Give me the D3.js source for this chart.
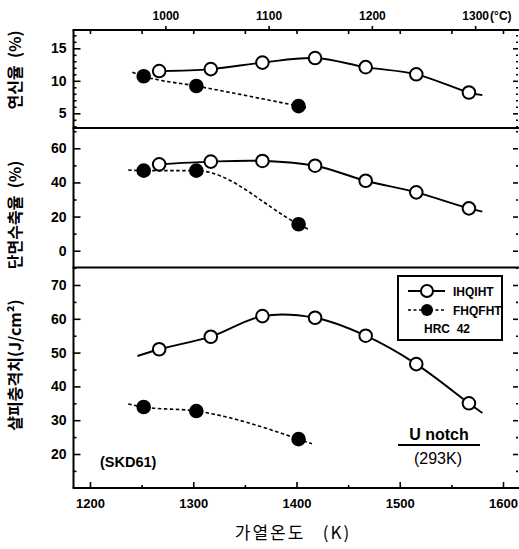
<!DOCTYPE html>
<html><head><meta charset="utf-8">
<script src="https://cdn.jsdelivr.net/npm/d3@7"></script>
<style>body{margin:0;background:#fff}</style>
</head><body>
<svg id="c" width="519" height="549" xmlns="http://www.w3.org/2000/svg"></svg>
<script>
// ---------- data ----------
const ihqTemp = [1267, 1317, 1367, 1418, 1467, 1516, 1567];   // K, IHQIHT
const fhqTemp = [1252, 1303, 1402];                            // K, FHQFHT
const elongIHQ = [11.5, 11.8, 12.8, 13.5, 12.1, 11.0, 8.2];    // %
const elongFHQ = [10.7, 9.2, 6.1];
const raIHQ = [50.6, 52.2, 52.6, 49.8, 41.0, 34.2, 24.8];      // %
const raFHQ = [46.9, 46.9, 15.5];
const impIHQ = [51.0, 54.7, 60.8, 60.3, 55.0, 46.6, 35.0];     // J/cm2
const impFHQ = [33.9, 32.7, 24.4];
// fitted curve extensions beyond the points: [K, value] (null = none)
const elongIHQStart = null,          elongIHQEnd = [1580, 7.8];
const elongFHQStart = [1241, 11.3],  elongFHQEnd = [1411, 5.8];
const raIHQStart = null,             raIHQEnd = [1580, 22.9];
const raFHQStart = [1237, 47.3],     raFHQEnd = [1411, 12.7];
const impIHQStart = [1246, 49.0],    impIHQEnd = [1580, 32.1];
const impFHQStart = [1237, 34.8],    impFHQEnd = [1415, 23.0];
// ticks
const kTicks = [1200, 1300, 1400, 1500, 1600];
const kMinor = [1250, 1350, 1450, 1550];
const cTicks = [1000, 1100, 1200, 1300];
const elongTicks = [5, 10, 15];
const raTicks = [0, 20, 40, 60];
const impTicks = [20, 30, 40, 50, 60, 70];

// ---------- layout ----------
const svg = d3.select("#c");
const L = 73.5, R = 519, RT = 518;
const yTop = 30, yD1 = 128, yD2 = 267.5, yBot = 488;
const x = d3.scaleLinear().domain([1200, 1600]).range([90, 503]);
const xC = d3.scaleLinear().domain([1200 - 273, 1600 - 273]).range([90, 503]);
const y1 = d3.scaleLinear().domain([5, 15]).range([113.3, 48.3]);
const y2 = d3.scaleLinear().domain([0, 60]).range([250.7, 148.3]);
const y3 = d3.scaleLinear().domain([20, 70]).range([454, 285]);

const tickFont = "'Liberation Sans Narrow', 'Liberation Sans', Arial, sans-serif";

function styleAxis(g, size, family, weight) {
  g.select(".domain").remove();
  g.selectAll("line").attr("stroke", "#000").attr("stroke-width", 1.6);
  g.selectAll("text").attr("fill", "#000").attr("font-size", size)
    .attr("font-family", family).attr("font-weight", weight);
}

// bottom axis
svg.append("g").attr("transform", `translate(0,${yBot})`)
  .call(d3.axisBottom(x).tickValues(kTicks).tickSize(-6).tickPadding(11).tickFormat(d3.format("d")))
  .call(g => styleAxis(g, 13, "'Liberation Sans', Arial, sans-serif", "bold"));
svg.append("g").attr("transform", `translate(0,${yBot})`)
  .call(d3.axisBottom(x).tickValues(kMinor).tickSize(-3).tickFormat(""))
  .call(g => styleAxis(g, 10, tickFont, "bold"));
// top axis: K ticks inward, °C ticks outward with labels
svg.append("g").attr("transform", `translate(0,${yTop})`)
  .call(d3.axisTop(x).tickValues(kTicks.concat(kMinor)).tickSize(-4).tickFormat(""))
  .call(g => styleAxis(g, 10, tickFont, "bold"));
svg.append("g").attr("transform", `translate(0,${yTop})`)
  .call(d3.axisTop(xC).tickValues(cTicks).tickSize(4).tickPadding(6).tickFormat(d3.format("d")))
  .call(g => styleAxis(g, 12, tickFont, "bold"));
svg.append("text").attr("x", xC(1300) + 15).attr("y", yTop - 10)
  .attr("font-family", tickFont).attr("font-weight", "bold").attr("font-size", 12)
  .text("(°C)");

// y axes (left with labels, right ticks only)
function yAxes(y, major, minor) {
  svg.append("g").attr("transform", `translate(${L},0)`)
    .call(d3.axisLeft(y).tickValues(major).tickSize(-7).tickPadding(7).tickFormat(d3.format("d")))
    .call(g => styleAxis(g, 14, tickFont, "bold"));
  svg.append("g").attr("transform", `translate(${L},0)`)
    .call(d3.axisLeft(y).tickValues(minor).tickSize(-3).tickFormat(""))
    .call(g => styleAxis(g, 10, tickFont, "bold"));
  svg.append("g").attr("transform", `translate(${RT},0)`)
    .call(d3.axisRight(y).tickValues(major).tickSize(-5).tickFormat(""))
    .call(g => styleAxis(g, 10, tickFont, "bold"));
  svg.append("g").attr("transform", `translate(${RT},0)`)
    .call(d3.axisRight(y).tickValues(minor).tickSize(-2).tickFormat(""))
    .call(g => styleAxis(g, 10, tickFont, "bold"));
}
yAxes(y1, elongTicks, d3.range(3, 18).filter(v => v % 5 !== 0));
yAxes(y2, raTicks, [-10, 10, 30, 50, 70]);
yAxes(y3, impTicks, [15, 25, 35, 45, 55, 65]);

// frame
[yTop, yD1, yD2, yBot].forEach(yy => {
  svg.append("line").attr("x1", L - 1).attr("x2", R).attr("y1", yy).attr("y2", yy)
    .attr("stroke", "#000").attr("stroke-width", 2.2);
});
svg.append("line").attr("x1", L).attr("x2", L).attr("y1", yTop).attr("y2", yBot)
  .attr("stroke", "#000").attr("stroke-width", 2);

// series
function series(y, temps, vals, start, end, filled) {
  const pts = temps.map((t, i) => [t, vals[i]]);
  const curve = (start ? [start] : []).concat(pts, end ? [end] : []);
  const line = d3.line().x(d => x(d[0])).y(d => y(d[1]))
    .curve(filled ? d3.curveMonotoneX : d3.curveCatmullRom.alpha(0.5));
  svg.append("path").attr("d", line(curve)).attr("fill", "none").attr("stroke", "#000")
    .attr("stroke-width", filled ? 1.6 : 1.9)
    .attr("stroke-dasharray", filled ? "3.5,2.5" : null);
  svg.append("g").selectAll("circle").data(pts).join("circle")
    .attr("cx", d => x(d[0])).attr("cy", d => y(d[1])).attr("r", 6.3)
    .attr("fill", filled ? "#000" : "#fff").attr("stroke", "#000").attr("stroke-width", 2);
}
series(y1, ihqTemp, elongIHQ, elongIHQStart, elongIHQEnd, false);
series(y1, fhqTemp, elongFHQ, elongFHQStart, elongFHQEnd, true);
series(y2, ihqTemp, raIHQ, raIHQStart, raIHQEnd, false);
series(y2, fhqTemp, raFHQ, raFHQStart, raFHQEnd, true);
series(y3, ihqTemp, impIHQ, impIHQStart, impIHQEnd, false);
series(y3, fhqTemp, impFHQ, impFHQStart, impFHQEnd, true);

// legend
const lg = svg.append("g");
lg.append("rect").attr("x", 398).attr("y", 276).attr("width", 104).attr("height", 64)
  .attr("fill", "#fff").attr("stroke", "#000").attr("stroke-width", 2);
lg.append("line").attr("x1", 408).attr("x2", 445).attr("y1", 291).attr("y2", 291)
  .attr("stroke", "#000").attr("stroke-width", 1.9);
lg.append("circle").attr("cx", 427).attr("cy", 291).attr("r", 6).attr("fill", "#fff")
  .attr("stroke", "#000").attr("stroke-width", 2);
lg.append("line").attr("x1", 408).attr("x2", 445).attr("y1", 310).attr("y2", 310)
  .attr("stroke", "#000").attr("stroke-width", 1.6).attr("stroke-dasharray", "3,2.5");
lg.append("circle").attr("cx", 427).attr("cy", 310).attr("r", 6).attr("fill", "#000");
const lgText = [["IHQIHT", 453, 295.5, "start"], ["FHQFHT", 453, 314.5, "start"], ["HRC  42", 447, 332.5, "middle"]];
lg.selectAll("text.lt").data(lgText).join("text").attr("class", "lt")
  .attr("x", d => d[1]).attr("y", d => d[2]).attr("text-anchor", d => d[3])
  .attr("font-family", tickFont).attr("font-weight", "bold").attr("font-size", 12)
  .style("white-space", "pre").text(d => d[0]);

// annotations
svg.append("text").attr("x", 439).attr("y", 440).attr("text-anchor", "middle")
  .attr("font-family", "'Liberation Sans', Arial, sans-serif").attr("font-weight", "bold")
  .attr("font-size", 16).text("U notch");
svg.append("line").attr("x1", 398).attr("x2", 480).attr("y1", 445).attr("y2", 445)
  .attr("stroke", "#000").attr("stroke-width", 1.8);
svg.append("text").attr("x", 438).attr("y", 464).attr("text-anchor", "middle")
  .attr("font-family", "'Liberation Sans', Arial, sans-serif")
  .attr("font-size", 16).text("(293K)");
svg.append("text").attr("x", 100).attr("y", 467)
  .attr("font-family", "'Liberation Sans', Arial, sans-serif").attr("font-weight", "bold")
  .attr("font-size", 14.5).text("(SKD61)");

// axis titles
const kfont = "'Noto Sans CJK KR', 'Noto Sans', sans-serif";
function yTitle(txt, cy) {
  svg.append("text").attr("transform", `translate(21,${cy}) rotate(-90)`)
    .attr("text-anchor", "middle").attr("font-family", kfont).attr("font-size", 16)
    .attr("font-weight", "bold").style("white-space", "pre").text(txt);
}
yTitle("연신율  (%)", 70);
yTitle("단면수축율  (%)", 215);
yTitle("샬피충격치(J/cm²)", 365);
svg.append("text").attr("x", 293).attr("y", 539).attr("text-anchor", "middle")
  .attr("font-family", kfont).attr("font-size", 17).attr("letter-spacing", 2)
  .style("white-space", "pre").text("가열온도   (K)");
</script>
</body></html>
